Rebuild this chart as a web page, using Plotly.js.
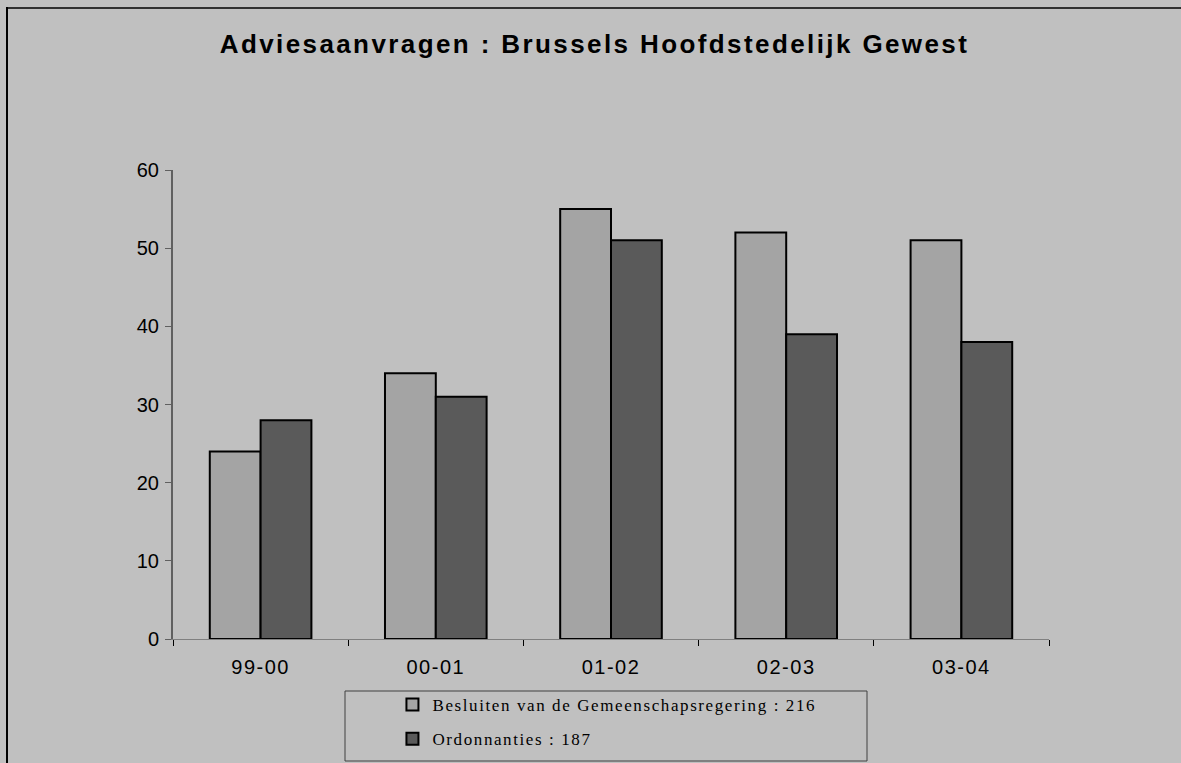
<!DOCTYPE html>
<html>
<head>
<meta charset="utf-8">
<script src="https://cdn.plot.ly/plotly-3.0.1.min.js"></script>
<style>
  html, body { margin: 0; padding: 0; background: #C0C0C0; overflow: hidden; }
  #chart { width: 1181px; height: 763px; }
  .legendtext { letter-spacing: 1.6px; }
  .gtitle { letter-spacing: 2.4px; }
  .xtick text { letter-spacing: 1.5px; }
</style>
</head>
<body>
<div id="chart"></div>
<script>
const categories = ["99-00", "00-01", "01-02", "02-03", "03-04"];
const besluiten = [24, 34, 55, 52, 51];
const ordonnanties = [28, 31, 51, 39, 38];
const seriesNames = ["Besluiten van de Gemeenschapsregering : 216", "Ordonnanties : 187"];
const yTicks = [0, 10, 20, 30, 40, 50, 60];

// pixel -> paper helpers for decorative frame and legend box
const px = p => (p - 173) / 876;
const py = q => (639 - q) / 469;

const traces = [
  { type: "bar", x: categories, y: besluiten, name: seriesNames[0], legendgroup: "a",
    marker: { color: "#A4A4A4", line: { color: "#000000", width: 2 } }, hoverinfo: "x+y" },
  { type: "bar", x: categories, y: ordonnanties, name: seriesNames[1], legendgroup: "b",
    marker: { color: "#5A5A5A", line: { color: "#000000", width: 2 } }, hoverinfo: "x+y" }
];

const layout = {
  width: 1181, height: 763,
  paper_bgcolor: "#C0C0C0", plot_bgcolor: "#C0C0C0",
  margin: { l: 173, r: 132, t: 170, b: 124, autoexpand: false },
  title: { text: "<b>Adviesaanvragen : Brussels Hoofdstedelijk Gewest</b>",
           font: { family: "Liberation Sans, Arial, sans-serif", size: 26, color: "#000" },
           x: 0.5034, xanchor: "center", y: 0.942, yanchor: "middle" },
  barmode: "group", bargap: 0.42, bargroupgap: 0,
  showlegend: true,
  legend: { x: 0.2505, xanchor: "left", y: -0.1025, yanchor: "top",
            bgcolor: "rgba(0,0,0,0)", borderwidth: 0, tracegroupgap: 9,
            font: { family: "Liberation Serif, Times New Roman, serif", size: 17, color: "#000" },
            itemclick: false, itemdoubleclick: false },
  xaxis: { type: "category", showgrid: false, zeroline: false,
           showline: true, linecolor: "#808080", linewidth: 1,
           ticks: "outside", tickson: "boundaries", ticklen: 6, tickcolor: "#000", tickwidth: 1,
           ticklabelstandoff: 10,
           tickfont: { family: "Liberation Sans, Arial, sans-serif", size: 20, color: "#000" } },
  yaxis: { range: [0, 60], tickvals: yTicks, showgrid: false, zeroline: false,
           showline: true, linecolor: "#606060", linewidth: 2,
           ticks: "outside", ticklen: 6, tickcolor: "#606060", tickwidth: 1,
           ticklabelstandoff: 2,
           tickfont: { family: "Liberation Sans, Arial, sans-serif", size: 20, color: "#000" } },
  shapes: [
    { type: "rect", xref: "paper", yref: "paper",
      x0: px(345), x1: px(867), y0: py(691), y1: py(761),
      line: { color: "#404040", width: 1 }, fillcolor: "rgba(0,0,0,0)", layer: "below" },
    { type: "line", xref: "paper", yref: "paper",
      x0: px(6), x1: px(1190), y0: py(8), y1: py(8),
      line: { color: "#303030", width: 2 } },
    { type: "line", xref: "paper", yref: "paper",
      x0: px(7), x1: px(7), y0: py(7), y1: py(770),
      line: { color: "#000000", width: 2 } }
  ]
};

Plotly.newPlot("chart", traces, layout, { displayModeBar: false, staticPlot: true });
</script>
</body>
</html>
